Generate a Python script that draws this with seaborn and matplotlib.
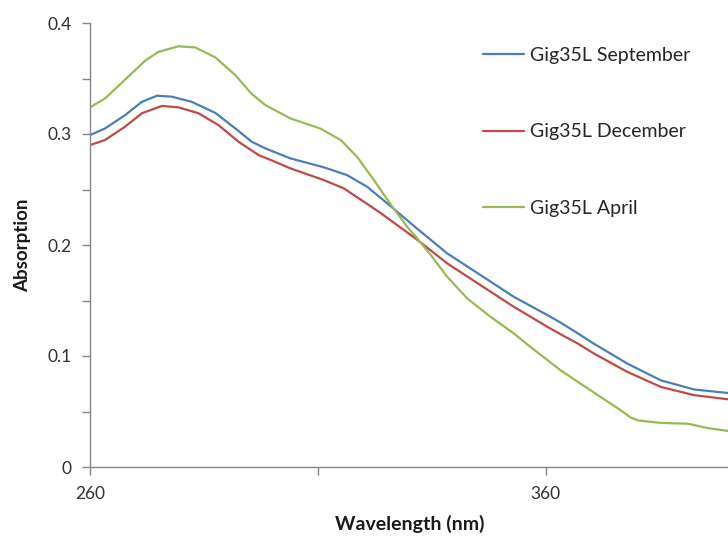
import pandas as pd
import seaborn as sns
import matplotlib.pyplot as plt
from matplotlib.ticker import FixedLocator

# Absorption spectra
sep_wl = [260, 263.3, 267.7, 271.4, 274.7, 278, 282.3, 287.5, 291.9, 295.5, 298.5, 304,
          311.3, 316.4, 320.8, 324.8, 331.7, 338.4, 345.7, 353, 360.4, 363.3, 367, 370.6,
          377.9, 385.3, 392.6, 400]
sep_abs = [0.299, 0.305, 0.317, 0.329, 0.3345, 0.3336, 0.329, 0.319, 0.305, 0.293, 0.287, 0.278,
           0.270, 0.263, 0.2525, 0.239, 0.215, 0.1924, 0.1729, 0.1533, 0.1368, 0.130, 0.1205,
           0.111, 0.0932, 0.078, 0.0698, 0.0667]

dec_wl = [260, 263.3, 267.7, 271.4, 275.8, 279.4, 283.8, 288.2, 292.6, 297, 300, 304,
          311.3, 315.7, 320.1, 323.7, 331.4, 338.4, 345.7, 353, 360.4, 363.3, 367, 370.6,
          377.9, 385.3, 392.6, 400]
dec_abs = [0.290, 0.2946, 0.3066, 0.3187, 0.3253, 0.324, 0.3187, 0.308, 0.293, 0.281, 0.276,
           0.269, 0.2585, 0.251, 0.239, 0.229, 0.206, 0.1834, 0.1638, 0.1443, 0.1262, 0.1195,
           0.1113, 0.1022, 0.0857, 0.0721, 0.0647, 0.061]

apr_wl = [260, 263.3, 267.7, 272.1, 275, 279.4, 283.1, 287.5, 291.9, 295.5, 298.5, 304,
          310.5, 315, 318.6, 322.3, 325.9, 329.6, 331.8, 334.7, 338.4, 342.8, 347.9, 353,
          356.7, 363.3, 370.6, 376.5, 378.7, 380.2, 385.3, 391.2, 395.6, 400]
apr_abs = [0.324, 0.332, 0.349, 0.366, 0.374, 0.379, 0.378, 0.369, 0.353, 0.336, 0.326, 0.314,
           0.305, 0.2946, 0.2795, 0.2585, 0.237, 0.2164, 0.206, 0.1914, 0.1713, 0.1518, 0.1353,
           0.1203, 0.108, 0.087, 0.067, 0.051, 0.0445, 0.042, 0.0397, 0.039, 0.035, 0.0325]

series_names = ["Gig35L September", "Gig35L December", "Gig35L April"]
colors = ["#4A7EBB", "#BE4B48", "#98B954"]

y_ticks = [0, 0.1, 0.2, 0.3, 0.4]
y_tick_labels = ["0", "0.1", "0.2", "0.3", "0.4"]
y_minor = [0.05, 0.15, 0.25, 0.35]
x_ticks = [260, 360]
x_minor = [310]

df = pd.concat([
    pd.DataFrame({"wl": sep_wl, "abs": sep_abs, "series": series_names[0]}),
    pd.DataFrame({"wl": dec_wl, "abs": dec_abs, "series": series_names[1]}),
    pd.DataFrame({"wl": apr_wl, "abs": apr_abs, "series": series_names[2]}),
])

sns.set_style("white")
plt.rcParams['font.family'] = ['Lato', 'DejaVu Sans']

fig = plt.figure(figsize=(7.28, 5.38), dpi=100)
ax = fig.add_axes([90 / 728, 1 - 467 / 538, 1 - 90 / 728, (467 - 23) / 538])

sns.lineplot(data=df, x="wl", y="abs", hue="series", palette=colors, linewidth=1.6,
             sort=False, ax=ax)
for ln in ax.lines:
    ln.set_solid_joinstyle("round")
    ln.set_solid_capstyle("round")

ax.set_xlim(260, 400)
ax.set_ylim(0, 0.4)
ax.xaxis.set_major_locator(FixedLocator(x_ticks))
ax.xaxis.set_minor_locator(FixedLocator(x_minor))
ax.yaxis.set_major_locator(FixedLocator(y_ticks))
ax.yaxis.set_minor_locator(FixedLocator(y_minor))
ax.set_yticklabels(y_tick_labels)

for s in ["top", "right"]:
    ax.spines[s].set_visible(False)
for s in ["left", "bottom"]:
    ax.spines[s].set_color("#868686")
    ax.spines[s].set_linewidth(1.0)
ax.spines["bottom"].set_zorder(1)
ax.tick_params(which="both", direction="out", length=5.5, width=1, color="#868686",
               labelsize=12.5, labelcolor="#303030", left=True, bottom=True, pad=8)

ax.set_xlabel("Wavelength (nm)", fontsize=14, fontweight="bold", color="#1a1a1a")
ax.set_ylabel("Absorption", fontsize=13.5, fontweight="bold", color="#1a1a1a")
ax.xaxis.set_label_coords((410 - 90) / 638, (467 - 515) / 444)
ax.yaxis.set_label_coords((31 - 90) / 638, (467 - 245) / 444)

ax.legend(frameon=False, loc="upper left", bbox_to_anchor=(483 / 728, 1 - 47 / 538),
          bbox_transform=fig.transFigure, fontsize=14, handlelength=2.1,
          handletextpad=0.3, labelspacing=3.05, borderpad=0, borderaxespad=0,
          title=None)

fig.savefig("out.png", dpi=100)
